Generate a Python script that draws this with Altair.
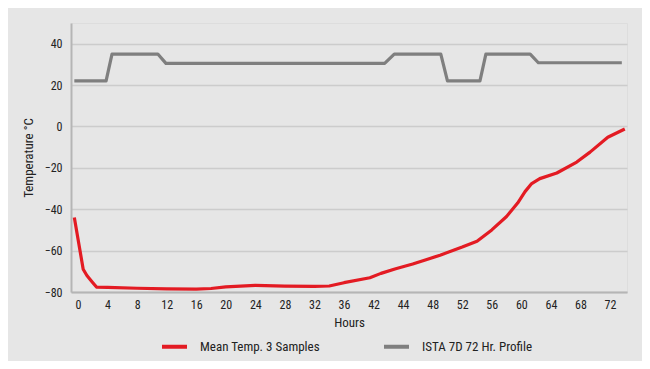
import altair as alt
import pandas as pd

# ISTA 7D 72 Hr. Profile (hours, °C)
profile_hours = [-0.5, 3.8, 4.6, 10.8, 11.9, 41.5, 42.8, 49.1, 50.0, 54.4, 55.2, 61.2, 62.3, 73.6]
profile_temp = [22, 22, 35, 35, 30.5, 30.5, 35, 35, 22, 22, 35, 35, 30.8, 30.8]

# Mean Temp. 3 Samples (hours, °C)
mean_hours = [-0.5, 0.7, 1.2, 2.0, 2.5, 4, 8, 12, 16, 18, 20, 24, 28, 32, 34, 36,
              39.5, 41, 43, 45.3, 47, 49, 52, 54, 56, 58, 59.5, 60.5, 61.4, 62.5,
              64.8, 67.5, 69.3, 71.7, 74]
mean_temp = [-44, -69, -72, -75.5, -77.6, -77.8, -78.2, -78.5, -78.6, -78.3, -77.5,
             -76.8, -77.2, -77.3, -77.1, -75.5, -73.1, -71, -68.8, -66.5, -64.5,
             -62.2, -58.3, -55.5, -50, -43.5, -37, -31.5, -27.6, -25.2, -22.5,
             -17.2, -12.4, -5.2, -1.2]

x_ticks = [0, 4, 8, 12, 16, 20, 24, 28, 32, 36, 40, 44, 48, 52, 56, 60, 64, 68, 72]
y_ticks = [-80, -60, -40, -20, 0, 20, 40]

series_names = ["Mean Temp. 3 Samples", "ISTA 7D 72 Hr. Profile"]
series_colors = ["#e31b23", "#7f7f7f"]

df = pd.concat([
    pd.DataFrame({"hours": mean_hours, "temp": mean_temp, "series": series_names[0]}),
    pd.DataFrame({"hours": profile_hours, "temp": profile_temp, "series": series_names[1]}),
])

FONT = "Liberation Sans Narrow, Roboto Condensed, Arial Narrow, Liberation Sans, sans-serif"

x = alt.X("hours:Q",
          scale=alt.Scale(domain=[-0.95, 74.3], nice=False, zero=False),
          axis=alt.Axis(values=x_ticks, title="Hours", grid=False, ticks=False,
                        labelExpr="datum.value == 40 ? '42' : datum.label",
                        labelPadding=7, titlePadding=6, domainColor="#b5b5b5",
                        domainWidth=2, labelFontSize=12, titleFontSize=13,
                        titleFontWeight="normal", labelColor="#222", titleColor="#222"))
y = alt.Y("temp:Q",
          scale=alt.Scale(domain=[-80, 50], nice=False),
          axis=alt.Axis(values=y_ticks, title="Temperature °C", grid=True, ticks=False,
                        gridColor="#cccccc", gridWidth=1.5, labelPadding=9,
                        titlePadding=9, domainColor="#b5b5b5", domainWidth=2,
                        labelFontSize=12, titleFontSize=13, titleFontWeight="normal",
                        labelColor="#222", titleColor="#222"))

color = alt.Color("series:N",
                  scale=alt.Scale(domain=series_names, range=series_colors),
                  sort=series_names,
                  legend=alt.Legend(title=None, orient="none", direction="horizontal",
                                    legendX=89, legendY=309, symbolType="stroke",
                                    symbolSize=625, symbolStrokeWidth=4,
                                    labelOffset=11, columnPadding=56,
                                    labelFontSize=13, labelColor="#222"))

chart = alt.Chart(df).mark_line(strokeWidth=3.2, strokeJoin="round").encode(
    x=x, y=y, color=color, detail="series:N"
).properties(
    width=556, height=269,
    autosize=alt.AutoSizeParams(type="none"),
    padding={"left": 63, "top": 15, "right": 15, "bottom": 69},
    background="#e6e6e6",
).configure_view(
    fill="white", stroke=None
).configure(
    font=FONT
)

chart.save("out.html", embed_options={"renderer": "svg", "actions": False})
